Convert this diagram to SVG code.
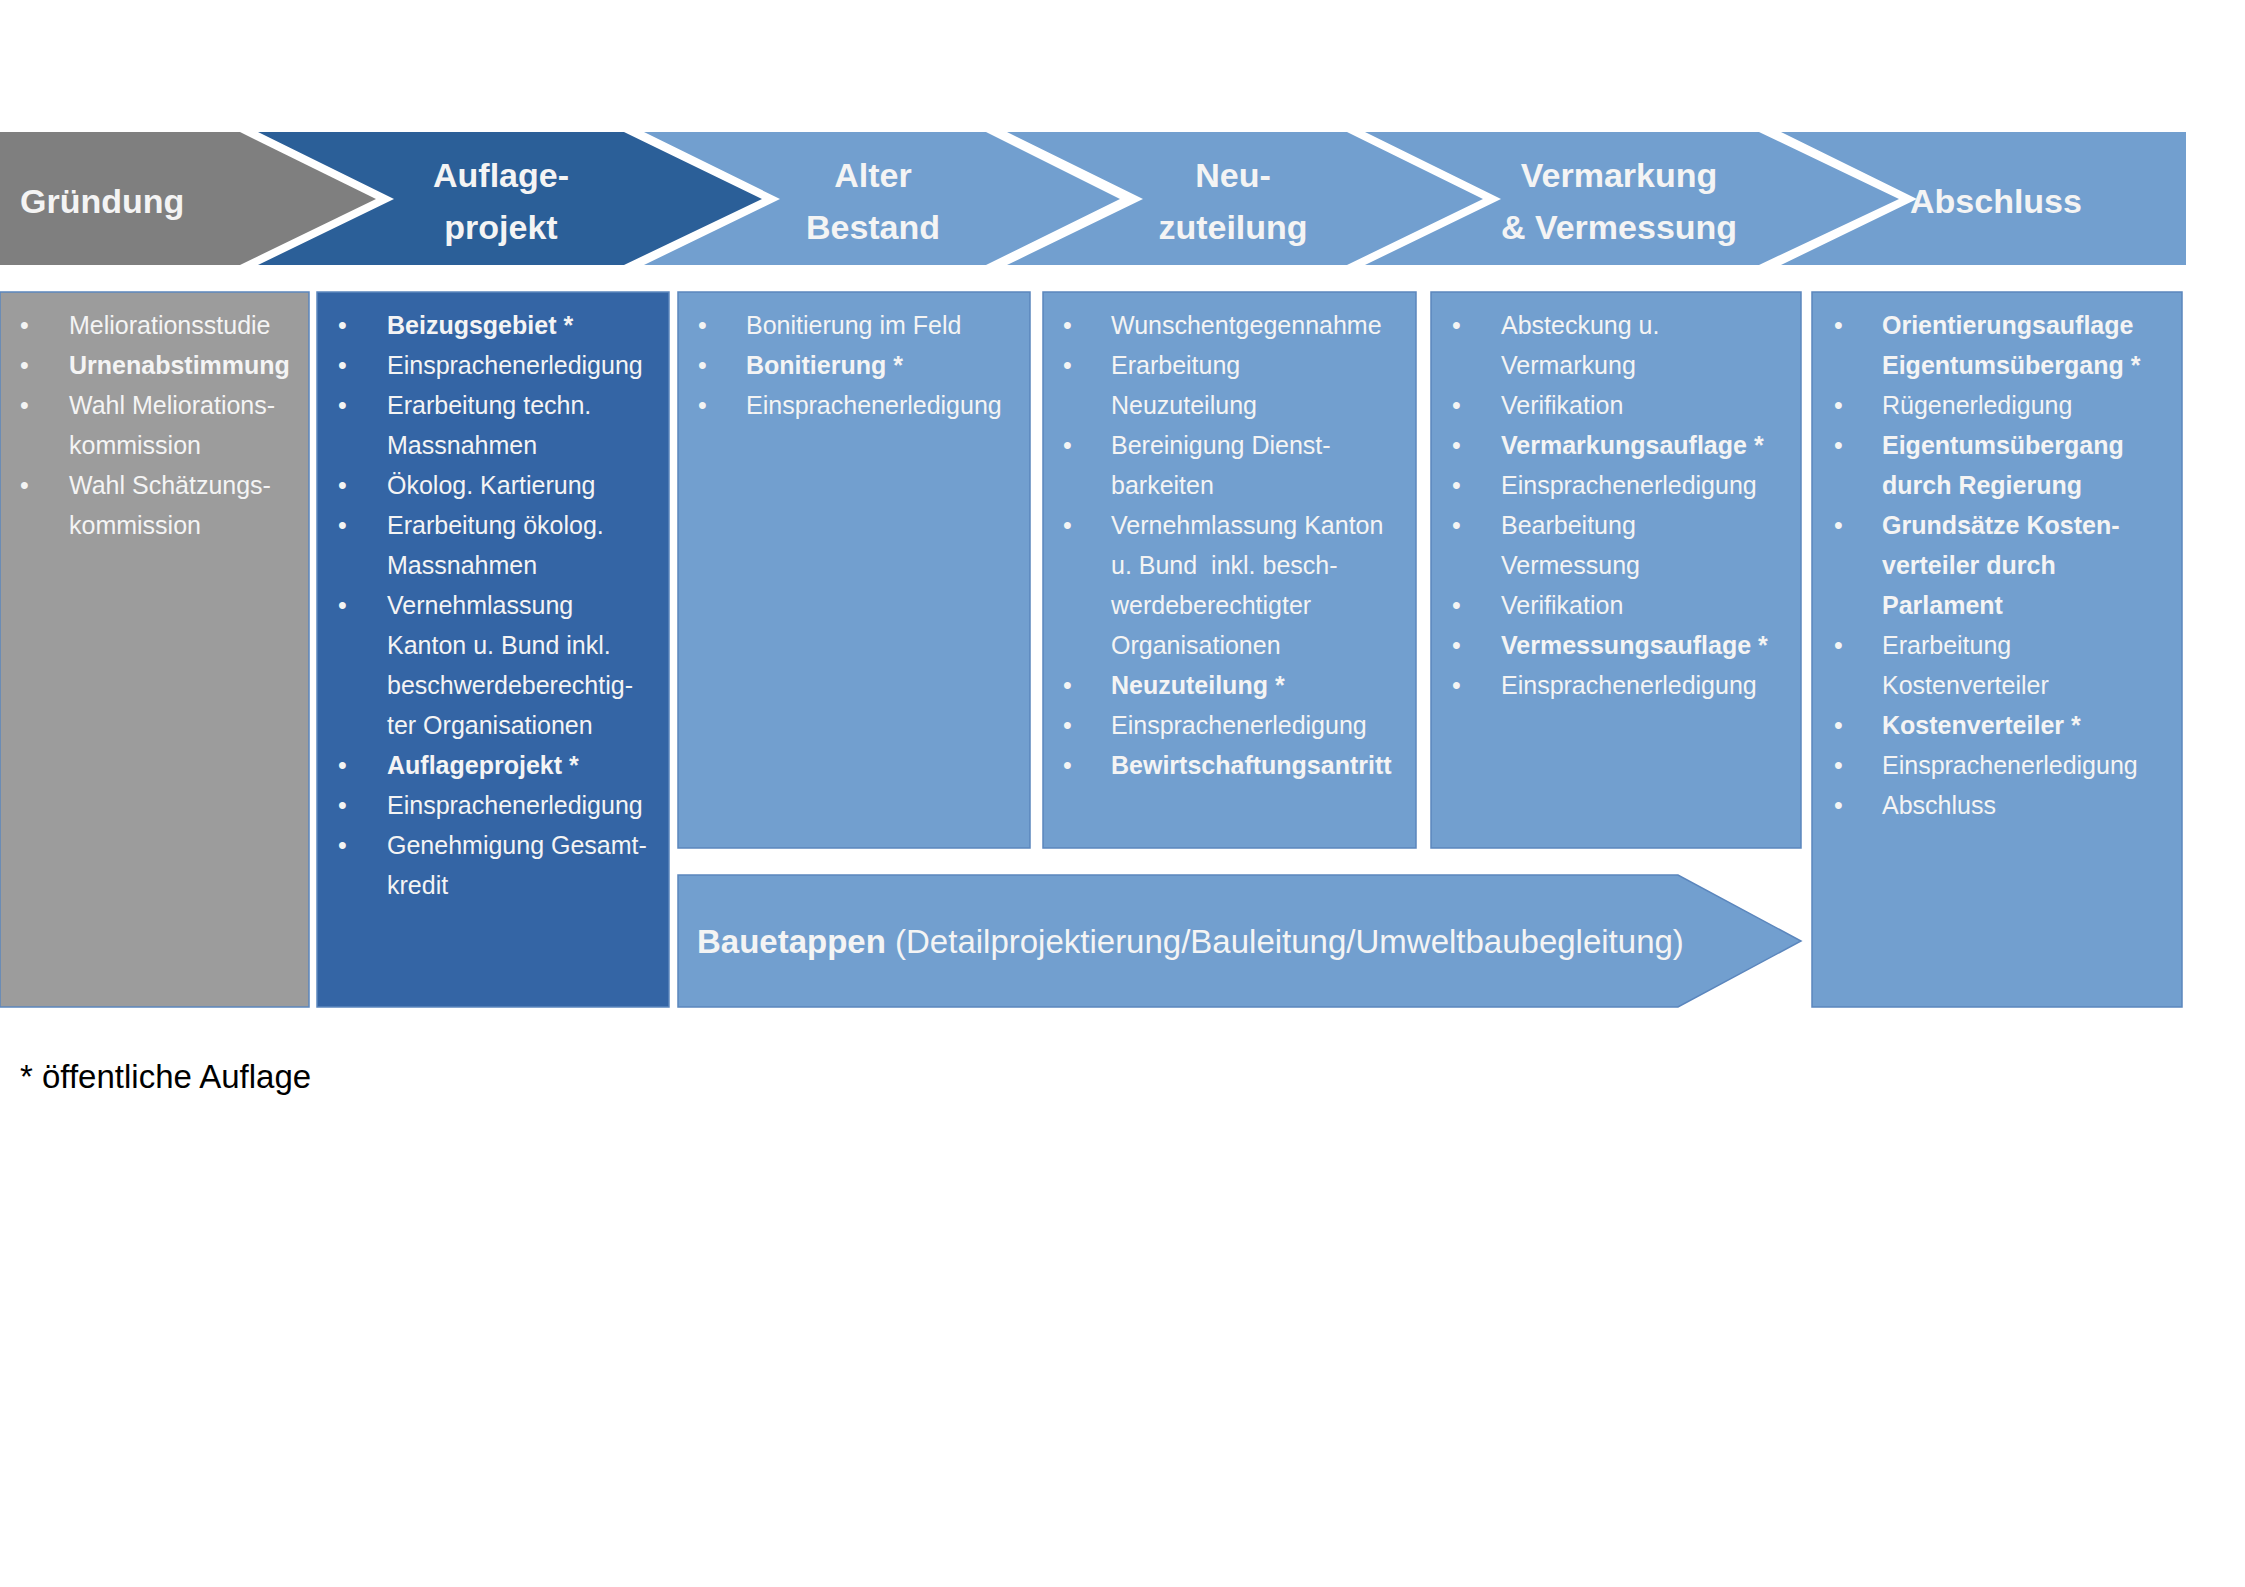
<svg xmlns="http://www.w3.org/2000/svg" width="2245" height="1587" viewBox="0 0 2245 1587">
<style>
text{font-family:"Liberation Sans","Noto Sans",sans-serif;fill:#f4f4f4}
.h{font-size:34px;font-weight:bold;font-stretch:condensed}
.i{font-size:25px;font-stretch:condensed}
.b{font-weight:bold}
.box{stroke:#5b86bd;stroke-width:1.5}
</style>
<rect width="2245" height="1587" fill="#fff"/>
<g id="headers">
<g id="h-gruendung"><polygon points="0,132 240,132 376,199 240,265 0,265" fill="#7f7f7f"/><text class="h" x="20" y="213">Gründung</text></g>
<g id="h-auflage"><polygon points="258,132 624,132 762,199 624,265 258,265 394,199" fill="#2b5f98"/><text class="h" text-anchor="middle" x="501" y="187">Auflage-</text><text class="h" text-anchor="middle" x="501" y="239">projekt</text></g>
<g id="h-alter"><polygon points="644,132 986,132 1120,199 986,265 644,265 780,199" fill="#729fcf"/><text class="h" text-anchor="middle" x="873" y="187">Alter</text><text class="h" text-anchor="middle" x="873" y="239">Bestand</text></g>
<g id="h-neu"><polygon points="1007,132 1347,132 1483,199 1347,265 1007,265 1143,199" fill="#729fcf"/><text class="h" text-anchor="middle" x="1233" y="187">Neu-</text><text class="h" text-anchor="middle" x="1233" y="239">zuteilung</text></g>
<g id="h-verm"><polygon points="1365,132 1759,132 1899,199 1759,265 1365,265 1501,199" fill="#729fcf"/><text class="h" text-anchor="middle" x="1619" y="187">Vermarkung</text><text class="h" text-anchor="middle" x="1619" y="239">&amp; Vermessung</text></g>
<g id="h-abschluss"><polygon points="1781,132 2186,132 2186,265 1781,265 1917,199" fill="#729fcf"/><text class="h" x="1910" y="213">Abschluss</text></g>
</g>
<g id="col-gruendung">
<rect class="box" x="0" y="292" width="309" height="715" fill="#9c9c9c"/>
<g class="i"><text x="20" y="334">•</text><text x="20" y="374">•</text><text x="20" y="414">•</text><text x="20" y="494">•</text></g>
<g class="i"><text x="69" y="334">Meliorationsstudie</text><text x="69" y="374" class="b">Urnenabstimmung</text><text x="69" y="414">Wahl Meliorations-</text><text x="69" y="454">kommission</text><text x="69" y="494">Wahl Schätzungs-</text><text x="69" y="534">kommission</text></g>
</g>
<g id="col-auflage">
<rect class="box" x="317" y="292" width="352" height="715" fill="#3465a5"/>
<g class="i"><text x="338" y="334">•</text><text x="338" y="374">•</text><text x="338" y="414">•</text><text x="338" y="494">•</text><text x="338" y="534">•</text><text x="338" y="614">•</text><text x="338" y="774">•</text><text x="338" y="814">•</text><text x="338" y="854">•</text></g>
<g class="i"><text x="387" y="334" class="b">Beizugsgebiet *</text><text x="387" y="374">Einsprachenerledigung</text><text x="387" y="414">Erarbeitung techn.</text><text x="387" y="454">Massnahmen</text><text x="387" y="494">Ökolog. Kartierung</text><text x="387" y="534">Erarbeitung ökolog.</text><text x="387" y="574">Massnahmen</text><text x="387" y="614">Vernehmlassung</text><text x="387" y="654">Kanton u. Bund inkl.</text><text x="387" y="694">beschwerdeberechtig-</text><text x="387" y="734">ter Organisationen</text><text x="387" y="774" class="b">Auflageprojekt *</text><text x="387" y="814">Einsprachenerledigung</text><text x="387" y="854">Genehmigung Gesamt-</text><text x="387" y="894">kredit</text></g>
</g>
<g id="col-alter">
<rect class="box" x="678" y="292" width="352" height="556" fill="#729fcf"/>
<g class="i"><text x="698" y="334">•</text><text x="698" y="374">•</text><text x="698" y="414">•</text></g>
<g class="i"><text x="746" y="334">Bonitierung im Feld</text><text x="746" y="374" class="b">Bonitierung *</text><text x="746" y="414">Einsprachenerledigung</text></g>
</g>
<g id="col-neu">
<rect class="box" x="1043" y="292" width="373" height="556" fill="#729fcf"/>
<g class="i"><text x="1063" y="334">•</text><text x="1063" y="374">•</text><text x="1063" y="454">•</text><text x="1063" y="534">•</text><text x="1063" y="694">•</text><text x="1063" y="734">•</text><text x="1063" y="774">•</text></g>
<g class="i"><text x="1111" y="334">Wunschentgegennahme</text><text x="1111" y="374">Erarbeitung</text><text x="1111" y="414">Neuzuteilung</text><text x="1111" y="454">Bereinigung Dienst-</text><text x="1111" y="494">barkeiten</text><text x="1111" y="534">Vernehmlassung Kanton</text><text x="1111" y="574" xml:space="preserve">u. Bund  inkl. besch-</text><text x="1111" y="614">werdeberechtigter</text><text x="1111" y="654">Organisationen</text><text x="1111" y="694" class="b">Neuzuteilung *</text><text x="1111" y="734">Einsprachenerledigung</text><text x="1111" y="774" class="b">Bewirtschaftungsantritt</text></g>
</g>
<g id="col-verm">
<rect class="box" x="1431" y="292" width="370" height="556" fill="#729fcf"/>
<g class="i"><text x="1452" y="334">•</text><text x="1452" y="414">•</text><text x="1452" y="454">•</text><text x="1452" y="494">•</text><text x="1452" y="534">•</text><text x="1452" y="614">•</text><text x="1452" y="654">•</text><text x="1452" y="694">•</text></g>
<g class="i"><text x="1501" y="334">Absteckung u.</text><text x="1501" y="374">Vermarkung</text><text x="1501" y="414">Verifikation</text><text x="1501" y="454" class="b">Vermarkungsauflage *</text><text x="1501" y="494">Einsprachenerledigung</text><text x="1501" y="534">Bearbeitung</text><text x="1501" y="574">Vermessung</text><text x="1501" y="614">Verifikation</text><text x="1501" y="654" class="b">Vermessungsauflage *</text><text x="1501" y="694">Einsprachenerledigung</text></g>
</g>
<g id="col-abschluss">
<rect class="box" x="1812" y="292" width="370" height="715" fill="#729fcf"/>
<g class="i"><text x="1834" y="334">•</text><text x="1834" y="414">•</text><text x="1834" y="454">•</text><text x="1834" y="534">•</text><text x="1834" y="654">•</text><text x="1834" y="734">•</text><text x="1834" y="774">•</text><text x="1834" y="814">•</text></g>
<g class="i"><text x="1882" y="334" class="b">Orientierungsauflage</text><text x="1882" y="374" class="b">Eigentumsübergang *</text><text x="1882" y="414">Rügenerledigung</text><text x="1882" y="454" class="b">Eigentumsübergang</text><text x="1882" y="494" class="b">durch Regierung</text><text x="1882" y="534" class="b">Grundsätze Kosten-</text><text x="1882" y="574" class="b">verteiler durch</text><text x="1882" y="614" class="b">Parlament</text><text x="1882" y="654">Erarbeitung</text><text x="1882" y="694">Kostenverteiler</text><text x="1882" y="734" class="b">Kostenverteiler *</text><text x="1882" y="774">Einsprachenerledigung</text><text x="1882" y="814">Abschluss</text></g>
</g>
<g id="bauetappen">
<polygon points="678,875 1678,875 1801,941 1678,1007 678,1007" fill="#729fcf" stroke="#5b86bd" stroke-width="1.5"/>
<text x="697" y="953" style="font-size:33px;font-stretch:condensed"><tspan font-weight="bold">Bauetappen</tspan> (Detailprojektierung/Bauleitung/Umweltbaubegleitung)</text>
</g>
<text x="20" y="1088" style="font-size:33px;fill:#000;font-stretch:condensed">* öffentliche Auflage</text>
</svg>
